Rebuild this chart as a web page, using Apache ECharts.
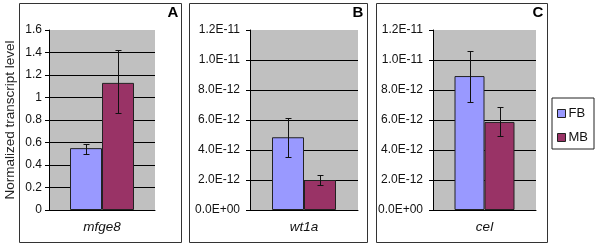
<!DOCTYPE html>
<html>
<head>
<meta charset="utf-8">
<script src="https://cdn.jsdelivr.net/npm/echarts@6/dist/echarts.min.js"></script>
<style>
html, body { margin: 0; padding: 0; background: #fff; }
#chart { width: 598px; height: 246px; }
</style>
</head>
<body>
<div id="chart"></div>
<script>
var seriesNames = ['FB', 'MB']
var genes = ['mfge8', 'wt1a', 'cel']
var panelLetters = ['A', 'B', 'C']
// bar heights per panel (A, B, C)
var fbMean = [0.55, 4.85e-12, 8.93e-12]
var mbMean = [1.13, 2.0e-12, 5.87e-12]
// error bar ends
var fbLow = [0.50, 3.53e-12, 7.2e-12]
var fbHigh = [0.59, 6.13e-12, 10.6e-12]
var mbLow = [0.86, 1.67e-12, 4.93e-12]
var mbHigh = [1.42, 2.33e-12, 6.87e-12]
// axis ranges
var yMax = [1.6, 1.2e-11, 1.2e-11]
var yStep = [0.2, 2e-12, 2e-12]

var colors = { FB: '#9999FF', MB: '#993366' }
var font = 'Liberation Sans, Arial, sans-serif'

var grids = [
  { left: 49, top: 30, width: 106, height: 180 },
  { left: 250, top: 30, width: 108, height: 180 },
  { left: 433, top: 30, width: 103, height: 180 }
]
var barW = [32, 32, 30]
var frames = [
  { x: 19.5, w: 162 },
  { x: 189.5, w: 178 },
  { x: 376.5, w: 171 }
]
var letterX = [173, 358, 538]

function sciLabel (v) {
  var s = Number(v).toExponential(1).toUpperCase()
  return s.replace(/E([+-])(\d)$/, 'E$10$2')
}

function errorItem (sign, w) {
  return function (params, api) {
    var x = api.value(0)
    var lo = api.coord([x, api.value(1)])
    var hi = api.coord([x, api.value(2)])
    var cx = Math.round(lo[0] + sign * w / 2) + 0.5
    var y1 = Math.round(hi[1]) + 0.5
    var y2 = Math.round(lo[1]) + 0.5
    var st = { stroke: '#111', lineWidth: 1 }
    return {
      type: 'group',
      children: [
        { type: 'line', shape: { x1: cx, y1: y1, x2: cx, y2: y2 }, style: st },
        { type: 'line', shape: { x1: cx - 3, y1: y1, x2: cx + 3, y2: y1 }, style: st },
        { type: 'line', shape: { x1: cx - 3, y1: y2, x2: cx + 3, y2: y2 }, style: st }
      ]
    }
  }
}

var xAxis = []
var yAxis = []
var series = []
var graphic = []

for (let i = 0; i < 3; i++) {
  xAxis.push({
    type: 'category',
    gridIndex: i,
    data: [genes[i]],
    axisLine: { lineStyle: { color: '#000', width: 1 } },
    axisTick: { show: false },
    axisLabel: { color: '#111', fontSize: 13.5, fontStyle: 'italic', fontFamily: font, margin: 10 }
  })
  yAxis.push({
    type: 'value',
    gridIndex: i,
    min: 0,
    max: yMax[i],
    interval: yStep[i],
    name: i === 0 ? 'Normalized transcript level' : '',
    nameLocation: 'middle',
    nameGap: 32,
    nameTextStyle: { color: '#222', fontSize: 13.5, fontFamily: font },
    axisLine: { show: true, lineStyle: { color: '#000', width: 1 } },
    axisTick: { show: true, length: 4, lineStyle: { color: '#000' } },
    axisLabel: {
      color: '#111',
      fontSize: 12,
      fontFamily: font,
      margin: i === 0 ? 7 : 10,
      formatter: i === 0 ? function (v) { return String(Math.round(v * 10) / 10) } : sciLabel
    },
    splitLine: { show: true, showMaxLine: false, lineStyle: { color: '#000', width: 1 } }
  })
  series.push({
    name: 'FB',
    type: 'bar',
    xAxisIndex: i,
    yAxisIndex: i,
    barWidth: barW[i],
    barGap: '0%',
    data: [fbMean[i]],
    itemStyle: { color: colors.FB, borderColor: '#222', borderWidth: 1 }
  })
  series.push({
    name: 'MB',
    type: 'bar',
    xAxisIndex: i,
    yAxisIndex: i,
    barWidth: barW[i],
    barGap: '0%',
    data: [mbMean[i]],
    itemStyle: { color: colors.MB, borderColor: '#222', borderWidth: 1 }
  })
  series.push({
    type: 'custom',
    xAxisIndex: i,
    yAxisIndex: i,
    renderItem: errorItem(-1, barW[i]),
    encode: { x: 0, y: [1, 2] },
    data: [[0, fbLow[i], fbHigh[i]]],
    z: 5
  })
  series.push({
    type: 'custom',
    xAxisIndex: i,
    yAxisIndex: i,
    renderItem: errorItem(1, barW[i]),
    encode: { x: 0, y: [1, 2] },
    data: [[0, mbLow[i], mbHigh[i]]],
    z: 5
  })
  graphic.push({
    type: 'rect',
    shape: { x: frames[i].x, y: 3.5, width: frames[i].w, height: 239 },
    style: { fill: 'none', stroke: '#333', lineWidth: 1 },
    z: 0
  })
  graphic.push({
    type: 'text',
    x: letterX[i],
    y: 13,
    style: {
      text: panelLetters[i],
      font: 'bold 15px ' + font,
      fill: '#000',
      textAlign: 'center',
      textVerticalAlign: 'middle'
    }
  })
}

var option = {
  animation: false,
  grid: grids.map(function (g) {
    return Object.assign({ show: true, backgroundColor: '#C0C0C0', borderWidth: 0 }, g)
  }),
  xAxis: xAxis,
  yAxis: yAxis,
  legend: {
    data: seriesNames,
    orient: 'vertical',
    left: 552,
    top: 98,
    padding: [9, 6, 5, 5],
    itemGap: 11,
    itemWidth: 8,
    itemHeight: 8,
    icon: 'rect',
    borderColor: '#222',
    borderWidth: 1,
    itemStyle: { borderColor: '#222', borderWidth: 1 },
    textStyle: { color: '#111', fontSize: 13, fontFamily: font, padding: [0, 0, 0, -2] }
  },
  graphic: graphic,
  series: series
}

var chart = echarts.init(document.getElementById('chart'))
chart.setOption(option)
</script>
</body>
</html>
